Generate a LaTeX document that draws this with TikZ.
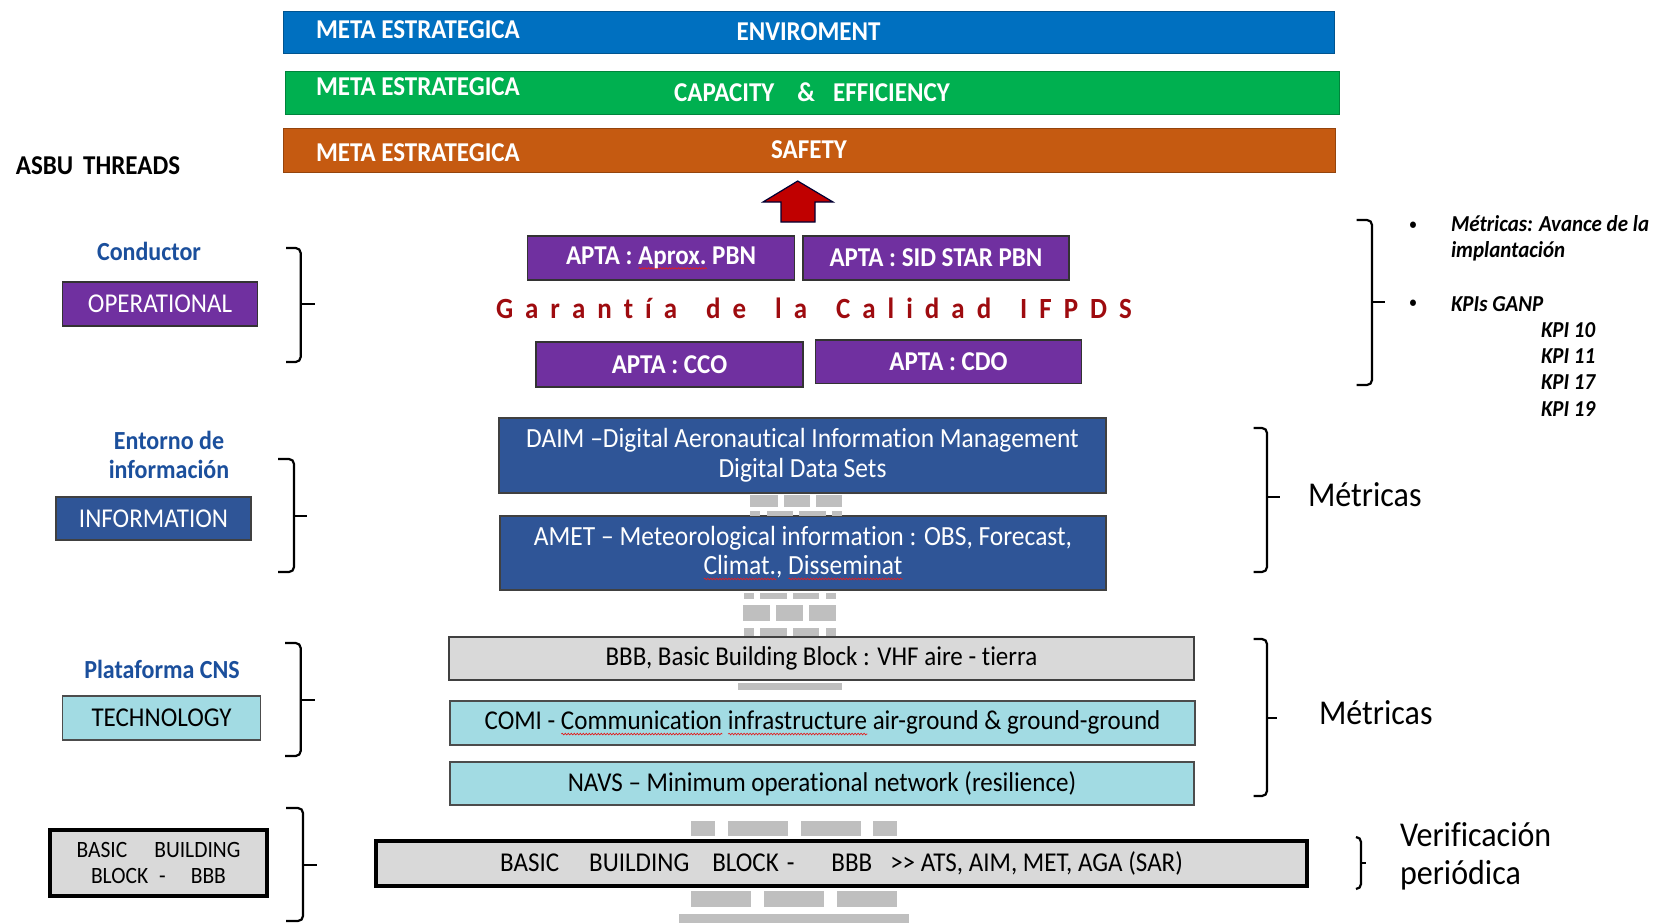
\documentclass[tikz,border=0pt]{standalone}
\usepackage{fontspec}
\setmainfont{Carlito}[Ligatures=NoCommon, FakeStretch=0.92]
\usetikzlibrary{decorations.pathmorphing}
\definecolor{cblue}{HTML}{0070C0}
\definecolor{cgreen}{HTML}{00B050}
\definecolor{corange}{HTML}{C55A11}
\definecolor{cpurple}{HTML}{7030A0}
\definecolor{cnavy}{HTML}{2F5597}
\definecolor{ccyan}{HTML}{A2DBE3}
\definecolor{cgray}{HTML}{D9D9D9}
\definecolor{cbrick}{HTML}{BFBFBF}
\definecolor{clabel}{HTML}{1B4F9C}
\definecolor{cdred}{HTML}{9E0B0F}
\definecolor{cred}{HTML}{C00000}
\definecolor{spellred}{HTML}{E02020}
\newdimen\lsk
\newdimen\wsk
\def\spacedA#1{\ifx#1\relax\else#1\kern\lsk\expandafter\spacedA\fi}
\newcommand\spaced[1]{\spacedA#1\relax}
\newsavebox\spbox
\newcommand\spellerr[1]{\sbox\spbox{#1}\rlap{\raisebox{-5.5pt}{\tikz\draw[spellred,line width=0.7pt,decorate,decoration={snake,amplitude=0.8pt,segment length=3pt}] (0pt,0pt) -- (\the\wd\spbox,0pt);}}\usebox\spbox}
\newcommand\mybrace[6]{%
  \draw[brc] (#1,#3) -- (#2,#3) -- (#2,#4) -- (#1,#4);
  \draw[brc] (#2,#5) -- (#6,#5);}
\begin{document}
\begin{tikzpicture}[x=1pt,y=-1pt,
  every node/.style={inner sep=0pt, outer sep=0pt},
  bar/.style={draw=#1!75!black, fill=#1, line width=0.8pt},
  barT/.style={text=white, font=\fontsize{27.2}{30}\selectfont\bfseries},
  pbox/.style={fill=cpurple, draw=black!80, line width=1.2pt, text=white, font=\fontsize{27.2}{30}\selectfont\bfseries},
  nbox/.style={fill=cnavy, draw=black!75, line width=1.2pt, text=white, font=\fontsize{27.7}{29.5}\selectfont, align=center},
  cbox/.style={fill=ccyan, draw=black!70, line width=1.2pt, text=black, font=\fontsize{27.2}{30}\selectfont},
  gbox/.style={fill=cgray, draw=black!75, line width=1.2pt, text=black, font=\fontsize{27.2}{30}\selectfont},
  kbox/.style={fill=cgray, draw=black, line width=3.8pt, text=black, align=center},
  bluelbl/.style={text=clabel, font=\fontsize{26.1}{29}\selectfont\bfseries, align=center},
  brc/.style={draw=black, line width=2.2pt, rounded corners=5pt},
  itl/.style={font=\fontsize{22.8}{25.5}\selectfont\bfseries\itshape, align=left},
  bul/.style={font=\fontsize{15.2}{16}\selectfont\bfseries},
  met/.style={font=\fontsize{34.8}{38}\selectfont, align=left},
  brick/.style={fill=cbrick},
  gar/.style={text=cdred, font=\fontsize{29.3}{32}\selectfont\bfseries, anchor=base west}
]
\useasboundingbox[fill=white] (0,0) rectangle (1661,923);

% strategic bars
\node[bar=cblue, minimum width=1051pt, minimum height=42pt, barT] (envbar) at (808.5,32) {ENVIROMENT};
\node[bar=cgreen, minimum width=1054pt, minimum height=43pt, barT] (capbar) at (812,92.5) {CAPACITY\hspace{23pt}\&\hspace{18pt}EFFICIENCY};
\node[bar=corange, minimum width=1052pt, minimum height=44pt, barT] (safbar) at (809,150) {SAFETY};
\node[barT, anchor=west] (meta1) at (316,29.7) {META ESTRATEGICA};
\node[barT, anchor=west] (meta2) at (316,86.9) {META ESTRATEGICA};
\node[barT, anchor=west] (meta3) at (316,152.5) {META ESTRATEGICA};
\node[font=\fontsize{27.2}{30}\selectfont\bfseries] (asbu) at (98,166) {ASBU\hspace{10pt}THREADS};

% red arrow
\draw[fill=cred, draw=black!80!blue, line width=1.2pt, line join=miter]
  (797.7,181) -- (833,202) -- (815,202) -- (815,222) -- (781,222) -- (781,202) -- (763,202) -- cycle;

% operational
\node[pbox, minimum width=267pt, minimum height=44pt] (aprox) at (661,258) {APTA : \spellerr{Aprox.} PBN};
\node[pbox, minimum width=266pt, minimum height=44pt] (sid) at (936,258) {APTA : SID STAR PBN};
\node[pbox, minimum width=267pt, minimum height=45pt] (cco) at (669.5,364.5) {APTA : CCO};
\node[pbox, minimum width=266pt, minimum height=43.5pt] (cdo) at (948.5,361.75) {APTA : CDO};
\setlength\lsk{12pt}\setlength\wsk{17pt}
\node[gar] (garantia) at (496,318) {\spaced{Garantía}\hspace{\wsk}\spaced{de}\hspace{\wsk}\spaced{la}\hspace{\wsk}\spaced{Calidad}\hspace{\wsk}\spaced{IFPDS}};

% information
\node[nbox, minimum width=607pt, minimum height=75pt] (daim) at (802.5,455.5) {DAIM –Digital Aeronautical Information Management\\Digital Data Sets};
\node[nbox, minimum width=606pt, minimum height=74pt] (amet) at (803,553) {AMET – Meteorological information : OBS, Forecast,\\\spellerr{Climat.}, \spellerr{Disseminat}};

% bricks around information
\fill[brick] (750,495) rectangle (778,507);
\fill[brick] (784,495) rectangle (810,507);
\fill[brick] (816,495) rectangle (842,507);
\fill[brick] (750,511) rectangle (760,516);
\fill[brick] (767,511) rectangle (793,516);
\fill[brick] (799,511) rectangle (826,516);
\fill[brick] (832,511) rectangle (842,516);
\fill[brick] (744,593) rectangle (754,599);
\fill[brick] (760,593) rectangle (787,599);
\fill[brick] (793,593) rectangle (819,599);
\fill[brick] (826,593) rectangle (836,599);
\fill[brick] (743,605) rectangle (770,621);
\fill[brick] (776,605) rectangle (803,621);
\fill[brick] (809,605) rectangle (836,621);
\fill[brick] (744,628) rectangle (754,636);
\fill[brick] (760,628) rectangle (787,636);
\fill[brick] (793,628) rectangle (819,636);
\fill[brick] (826,628) rectangle (836,636);
\fill[brick] (738,683) rectangle (842,690);

% technology
\node[gbox, minimum width=745pt, minimum height=43pt] (vhf) at (821.5,658.5) {BBB, Basic Building Block : VHF aire - tierra};
\node[cbox, minimum width=745pt, minimum height=44pt] (comi) at (822.5,723) {COMI - \spellerr{Communication} \spellerr{infrastructure} air-ground \& ground-ground};
\node[cbox, minimum width=744pt, minimum height=43pt] (navs) at (822,783.5) {NAVS – Minimum operational network (resilience)};

% bricks around BBB
\fill[brick] (691,821) rectangle (715,836);
\fill[brick] (728,821) rectangle (788,836);
\fill[brick] (801,821) rectangle (861,836);
\fill[brick] (873,821) rectangle (897,836);
\fill[brick] (691,891) rectangle (751,907);
\fill[brick] (764,891) rectangle (824,907);
\fill[brick] (837,891) rectangle (897,907);
\fill[brick] (679,914) rectangle (909,923);
\node[kbox, minimum width=931pt, minimum height=45pt, font=\fontsize{27.2}{30}\selectfont] (bbb) at (841.5,863.5)
  {BASIC\hspace{30pt}BUILDING\hspace{23pt}BLOCK\hspace{8pt}-\hspace{37pt}BBB\hspace{18pt}>\kern0pt> ATS, AIM, MET, AGA (SAR)};

% left labels
\node[bluelbl] (cond) at (149,251) {Conductor};
\node[pbox, minimum width=194.5pt, minimum height=44pt, font=\fontsize{27.2}{30}\selectfont] (oper) at (160,304) {OPERATIONAL};
\node[bluelbl] (ent) at (169,454.5) {Entorno de\\información};
\node[nbox, minimum width=195pt, minimum height=43pt, font=\fontsize{27.2}{30}\selectfont] (info) at (153.5,518.5) {INFORMATION};
\node[bluelbl] (plat) at (162,669) {Plataforma CNS};
\node[cbox, minimum width=198pt, minimum height=44pt] (tech) at (161.5,718) {TECHNOLOGY};
\node[kbox, minimum width=217pt, minimum height=66pt, font=\fontsize{23.4}{26}\selectfont] (lbbb) at (158.5,863)
  {BASIC\hspace{27pt}BUILDING\\BLOCK\hspace{11pt}-\hspace{25pt}BBB};

% braces
\mybrace{286}{300.7}{248}{362}{304}{315}
\mybrace{278}{294}{459}{572}{516}{307}
\mybrace{285}{300.7}{643}{756}{700}{315}
\mybrace{286}{303}{808}{921}{865}{316.6}
\mybrace{1356.7}{1372}{220}{385}{302}{1385}
\mybrace{1253.5}{1267}{428}{572}{497}{1280}
\mybrace{1253.5}{1267}{639}{796}{718}{1277}
\mybrace{1356}{1361}{837}{889}{863}{1366}

% right texts
\node[bul] (bul1) at (1413,226) {•};
\node[itl, anchor=west] (avance) at (1451,238.5) {Métricas: Avance de la\\implantación};
\node[bul] (bul2) at (1413,304) {•};
\node[itl, anchor=west] (kpis) at (1451,304) {KPIs GANP};
\node[itl, anchor=west] (k10) at (1541,330.5) {KPI 10};
\node[itl, anchor=west] (k11) at (1541,356) {KPI 11};
\node[itl, anchor=west] (k17) at (1541,382) {KPI 17};
\node[itl, anchor=west] (k19) at (1541,409) {KPI 19};
\node[met, anchor=west] (met1) at (1308,495) {Métricas};
\node[met, anchor=west] (met2) at (1319,713) {Métricas};
\node[met, anchor=west] (verif) at (1400,856) {Verificación\\periódica};
\end{tikzpicture}
\end{document}
